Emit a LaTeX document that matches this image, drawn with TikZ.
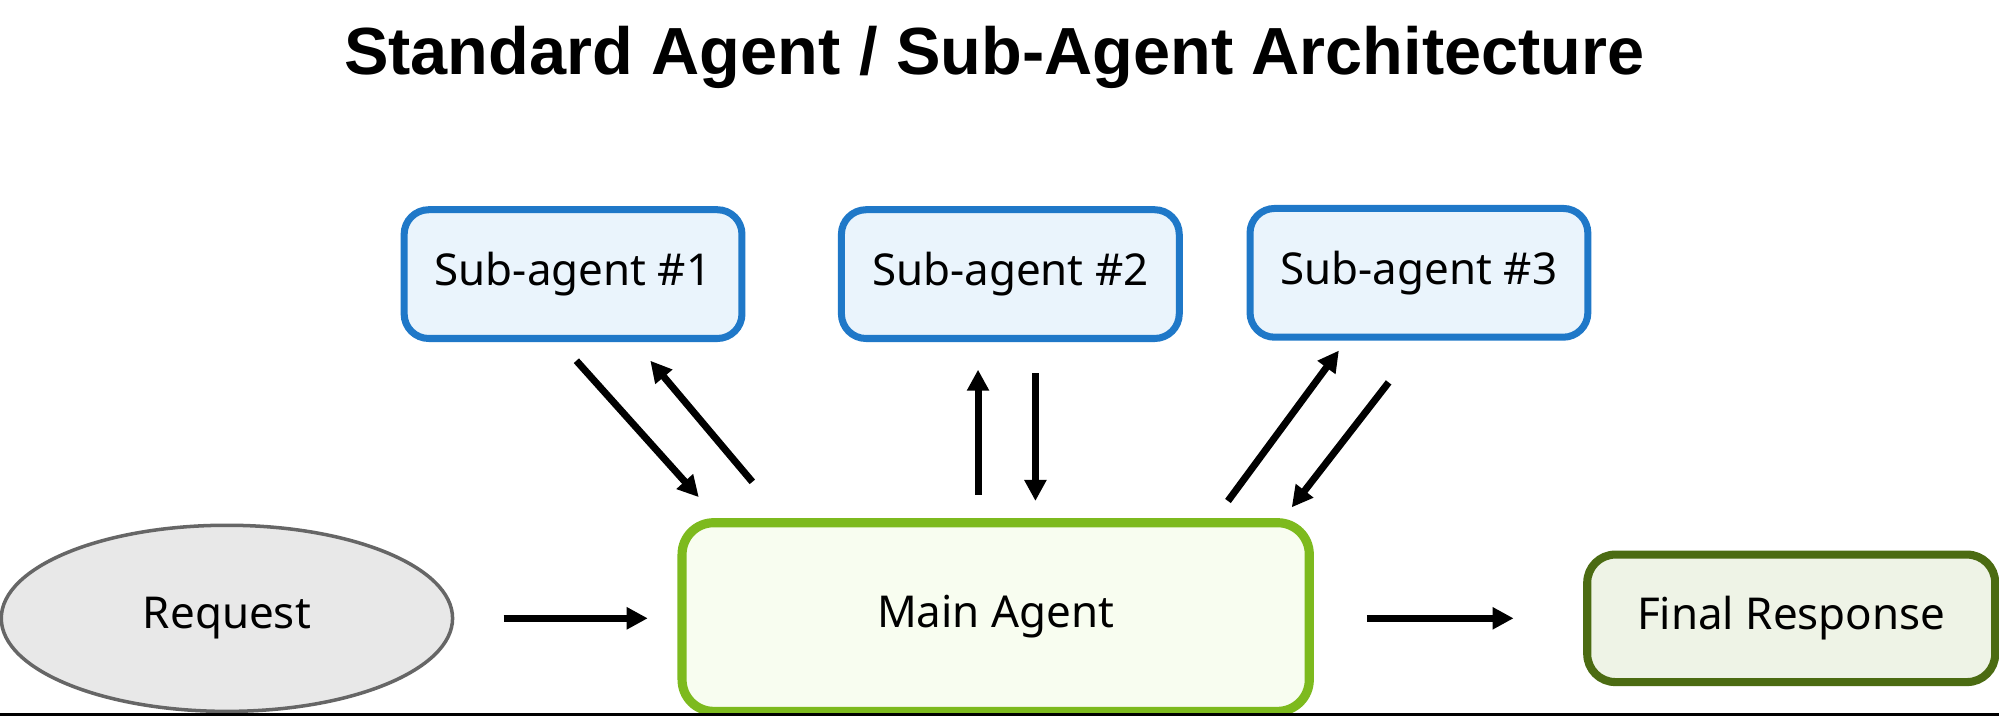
\documentclass[tikz,border=0pt]{standalone}
\usepackage{fontspec}
\setmainfont{Noto Sans}
\newfontfamily\titlefont{Liberation Sans}
\usepackage{xcolor}
\usetikzlibrary{shapes.geometric,arrows.meta}
\definecolor{subfill}{HTML}{EAF4FC}
\definecolor{subline}{HTML}{1F78C8}
\definecolor{mainfill}{HTML}{F8FDF0}
\definecolor{mainline}{HTML}{7DBA1E}
\definecolor{finfill}{HTML}{EEF3E6}
\definecolor{finline}{HTML}{4B6B12}
\tikzset{
  subagent/.style={draw=subline, line width=2pt, fill=subfill, rounded corners=7pt,
    minimum width=2.65cm, minimum height=1.01cm, font=\fontsize{9.8}{12}\selectfont},
  flow/.style={-{Triangle[length=6pt,width=6pt]}, line width=2pt}
}
\begin{document}
\begin{tikzpicture}[scale=1.275, every node/.append style={transform shape}]
        \useasboundingbox (0,0) rectangle (15.68,5.62);
        % Title
        \node (title) at (7.80,5.17) {\resizebox{10.2cm}{!}{\titlefont\bfseries Standard Agent / Sub-Agent Architecture}};

        % Sub-agents
        \node[subagent] (sub1) at (4.495,3.47) {Sub-agent \#1};
        \node[subagent] (sub2) at (7.925,3.47) {Sub-agent \#2};
        \node[subagent] (sub3) at (11.13,3.48) {Sub-agent \#3};

        % Main row
        \node[ellipse, draw=gray!80!black, line width=1pt, fill=black!9, minimum width=3.54cm, minimum height=1.46cm,
              font=\fontsize{9.8}{12}\selectfont] (req) at (1.78,0.77) {Request};
        \node[draw=mainline, line width=2.6pt, fill=mainfill, rounded corners=9pt, minimum width=4.92cm, minimum height=1.48cm,
              font=\fontsize{9.8}{12}\selectfont] (main) at (7.81,0.78) {Main Agent};
        \node[draw=finline, line width=2.3pt, fill=finfill, rounded corners=8pt, minimum width=3.2cm, minimum height=1.0cm,
              font=\fontsize{9.8}{12}\selectfont] (final) at (14.05,0.77) {Final Response};

        % Arrow ends
        \coordinate (a1s) at (4.52,2.79);  \coordinate (a1e) at (5.48,1.72);
        \coordinate (b1s) at (5.90,1.84);  \coordinate (b1e) at (5.10,2.79);
        \coordinate (a2s) at (7.67,1.74);  \coordinate (a2e) at (7.67,2.72);
        \coordinate (b2s) at (8.12,2.69);  \coordinate (b2e) at (8.12,1.69);
        \coordinate (a3s) at (9.63,1.69);  \coordinate (a3e) at (10.50,2.87);
        \coordinate (b3s) at (10.89,2.62); \coordinate (b3e) at (10.13,1.64);
        \coordinate (rs) at (3.95,0.77);   \coordinate (re) at (5.08,0.77);
        \coordinate (fs) at (10.72,0.77);  \coordinate (fe) at (11.87,0.77);

        % Connectors
        \draw[flow] (a1s) -- (a1e);
        \draw[flow] (b1s) -- (b1e);
        \draw[flow] (a2s) -- (a2e);
        \draw[flow] (b2s) -- (b2e);
        \draw[flow] (a3s) -- (a3e);
        \draw[flow] (b3s) -- (b3e);
        \draw[flow] (rs) -- (re);
        \draw[flow] (fs) -- (fe);

        % Bottom rule
        \draw[line width=1pt] (0,0.015) -- (15.68,0.015);
    \end{tikzpicture}
\end{document}
